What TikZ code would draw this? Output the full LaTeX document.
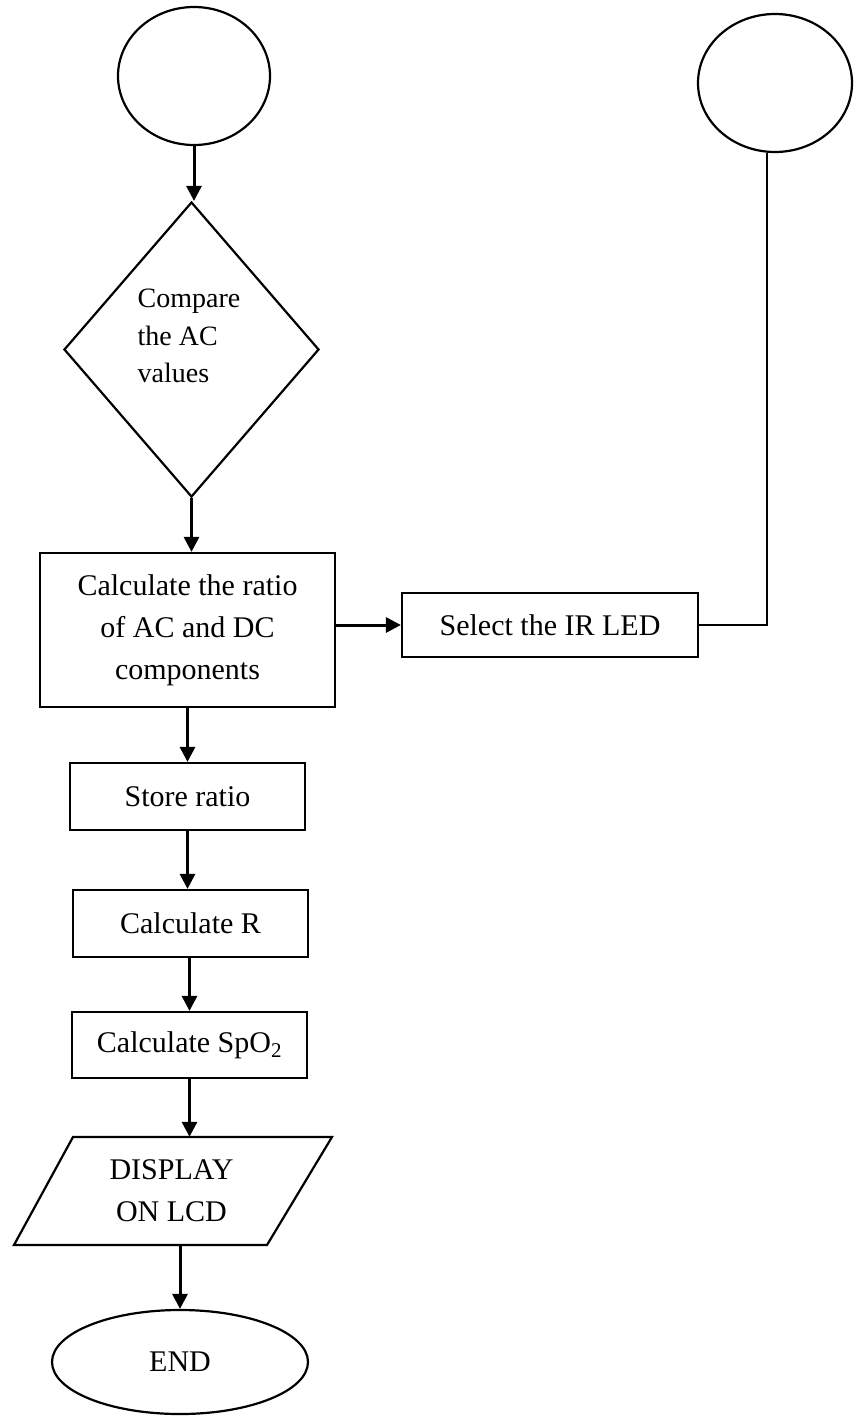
\documentclass[tikz,border=0pt]{standalone}
\usepackage{fontspec}
\setmainfont{Liberation Serif}
\usetikzlibrary{shapes.geometric,arrows.meta}
\begin{document}
\begin{tikzpicture}[x=1pt,y=-1pt,
  shapeline/.style={draw=black,line width=2.2pt},
  procbox/.style={shapeline,rectangle,inner sep=0pt,align=center,font=\fontsize{30}{42}\selectfont},
  termoval/.style={shapeline,ellipse,inner sep=0pt,font=\fontsize{30}{36}\selectfont},
  flow/.style={line width=3pt,-{Triangle[length=15pt,width=15pt]}},
  plainline/.style={line width=2.2pt},
  txt/.style={inner sep=0pt,font=\fontsize{30}{42}\selectfont}
]
\useasboundingbox[fill=white] (0,0) rectangle (861,1416);

\node[termoval,minimum width=152pt,minimum height=138pt] (c1) at (194,76) {};
\node[termoval,minimum width=154pt,minimum height=138pt] (c2) at (775,83) {};
\node[shapeline,diamond,minimum width=255pt,minimum height=295pt,inner sep=0pt] (dia) at (191.5,349.5) {};
\node[txt,align=left,font=\fontsize{28}{37.5}\selectfont] (diatxt) at (189,336) {Compare\\the AC\\values};

\node[procbox,minimum width=295pt,minimum height=154pt] (calc) at (187.5,630) {Calculate the ratio\\of AC and DC\\components};
\node[procbox,minimum width=296pt,minimum height=64pt] (sel) at (550,625) {Select the IR LED};
\node[procbox,minimum width=235pt,minimum height=67pt] (store) at (187.5,796.5) {Store ratio};
\node[procbox,minimum width=235pt,minimum height=67pt] (calcr) at (190.5,923.5) {Calculate R};
\node[procbox,minimum width=235pt,minimum height=66pt] (spo) at (189.5,1045) {Calculate SpO\textsubscript{2}};

\node[txt,align=center,minimum width=256pt,minimum height=108pt] (disp) at (171.5,1191) {DISPLAY\\ON LCD};
\draw[shapeline] (73,1137) -- (332,1137) -- (267,1245) -- (14,1245) -- cycle;

\node[termoval,minimum width=256pt,minimum height=104pt] (end) at (180,1362) {END};

\draw[flow] (c1.south) -- (c1.south |- dia.north);
\draw[flow] (dia.south) -- (dia.south |- calc.north);
\draw[flow] (calc.east |- sel.west) -- (sel.west);
\coordinate (turn) at (767,625);
\draw[plainline] (sel.east) -- (turn) -- (turn |- c2.south);
\draw[flow] (calc.south) -- (calc.south |- store.north);
\draw[flow] (store.south) -- (store.south |- calcr.north);
\draw[flow] (spo.north |- calcr.south) -- (spo.north);
\draw[flow] (spo.south) -- (spo.south |- disp.north);
\draw[flow] (end.north |- disp.south) -- (end.north);
\end{tikzpicture}
\end{document}
